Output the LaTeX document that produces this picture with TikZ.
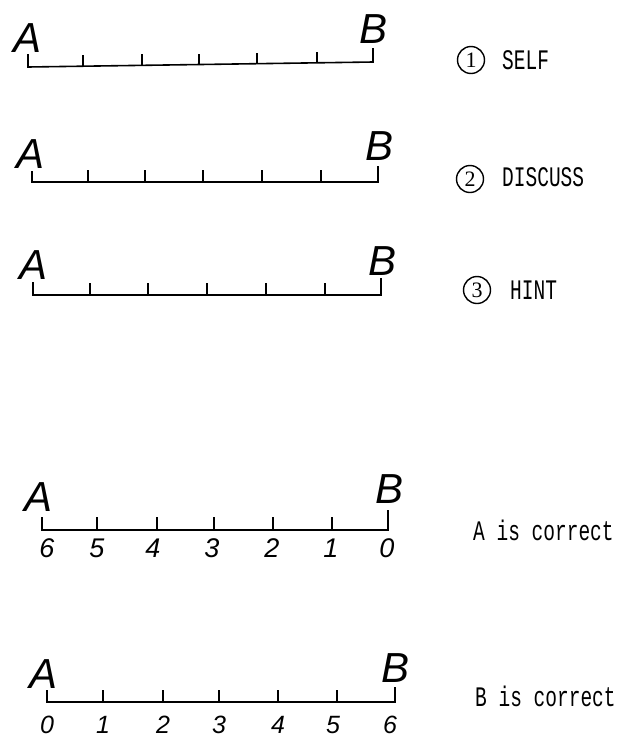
\documentclass[tikz,border=0pt]{standalone}
\usepackage{graphicx}
\usepackage{fontspec}
\setmainfont{Liberation Sans}
\newfontfamily\labfont{Liberation Mono}
\newfontfamily\circfont{Liberation Serif}
\newcommand{\tallt}[1]{\scalebox{1}[1.45]{#1}}
\begin{document}
\begin{tikzpicture}[x=1pt,y=-1pt,
  axis/.style={line width=1.6pt},
  endl/.style={font=\fontsize{42}{42}\selectfont\itshape, inner sep=0pt, anchor=base west},
  num/.style={font=\fontsize{27}{27}\selectfont\itshape, inner sep=0pt, anchor=base},
  numsm/.style={font=\fontsize{25}{25}\selectfont\itshape, inner sep=0pt, anchor=base},
  lab/.style={font=\labfont\fontsize{19.5}{20}\selectfont, inner sep=0pt, anchor=west},
  circ/.style={circle, draw, line width=1.4pt, minimum size=27pt, inner sep=0pt,
    font=\circfont\fontsize{22}{22}\selectfont}]
\useasboundingbox (0,0) rectangle (621,737);

% ---------- line 1 ----------
\node[endl] (A1) at (13,52) {A};
\node[endl] (B1) at (359,43) {B};
\coordinate (L1t) at (28,54); \coordinate (L1) at (28,67);
\coordinate (R1) at (373,62); \coordinate (R1t) at (373,48);
\draw[axis] (L1t) -- (L1) -- (R1) -- (R1t);
\foreach \x/\y in {83/66.2,142/65.3,199/64.5,257/63.7,317/62.8}
  \draw[axis] (\x,\y) -- ++(0,-11);
\node[circ] (c1) at (471,60) {1};
\node[lab] (t1) at (502,60) {\tallt{SELF}};

% ---------- line 2 ----------
\node[endl] (A2) at (16,168) {A};
\node[endl] (B2) at (365,160) {B};
\coordinate (L2t) at (32,171); \coordinate (L2) at (32,182);
\coordinate (R2) at (378,182); \coordinate (R2t) at (378,166);
\draw[axis] (L2t) -- (L2) -- (R2) -- (R2t);
\foreach \x in {88,145,203,262,321}
  \draw[axis] (\x,182) -- (\x,170);
\node[circ] (c2) at (470,179) {2};
\node[lab] (t2) at (502,177) {\tallt{DISCUSS}};

% ---------- line 3 ----------
\node[endl] (A3) at (19,279) {A};
\node[endl] (B3) at (368,275) {B};
\coordinate (L3t) at (33,282); \coordinate (L3) at (33,295);
\coordinate (R3) at (381,295); \coordinate (R3t) at (381,278);
\draw[axis] (L3t) -- (L3) -- (R3) -- (R3t);
\foreach \x in {90,148,207,266,325}
  \draw[axis] (\x,295) -- (\x,283);
\node[circ] (c3) at (477,290) {3};
\node[lab] (t3) at (510,290) {\tallt{HINT}};

% ---------- line 4 ----------
\node[endl] (A4) at (24,511) {A};
\node[endl] (B4) at (375,503) {B};
\coordinate (L4t) at (42,517); \coordinate (L4) at (42,530);
\coordinate (R4) at (388,530); \coordinate (R4t) at (388,510);
\draw[axis] (L4t) -- (L4) -- (R4) -- (R4t);
\foreach \x in {97,157,214,273,332}
  \draw[axis] (\x,530) -- (\x,517);
\foreach \x/\n [count=\i] in {47/6,97/5,153/4,212/3,272/2,331/1,387/0}
  \node[num] (n4-\i) at (\x,557) {\n};
\node[lab] (t4) at (473,530) {\tallt{A is correct}};

% ---------- line 5 ----------
\node[endl] (A5) at (29,688) {A};
\node[endl] (B5) at (381,682) {B};
\coordinate (L5t) at (47,690); \coordinate (L5) at (47,702);
\coordinate (R5) at (395,702); \coordinate (R5t) at (395,687);
\draw[axis] (L5t) -- (L5) -- (R5) -- (R5t);
\foreach \x in {103,163,219,278,337}
  \draw[axis] (\x,702) -- (\x,690);
\foreach \x/\n [count=\i] in {47/0,103/1,163/2,219/3,278/4,333/5,390/6}
  \node[numsm] (n5-\i) at (\x,733) {\n};
\node[lab] (t5) at (475,696) {\tallt{B is correct}};
\end{tikzpicture}
\end{document}
